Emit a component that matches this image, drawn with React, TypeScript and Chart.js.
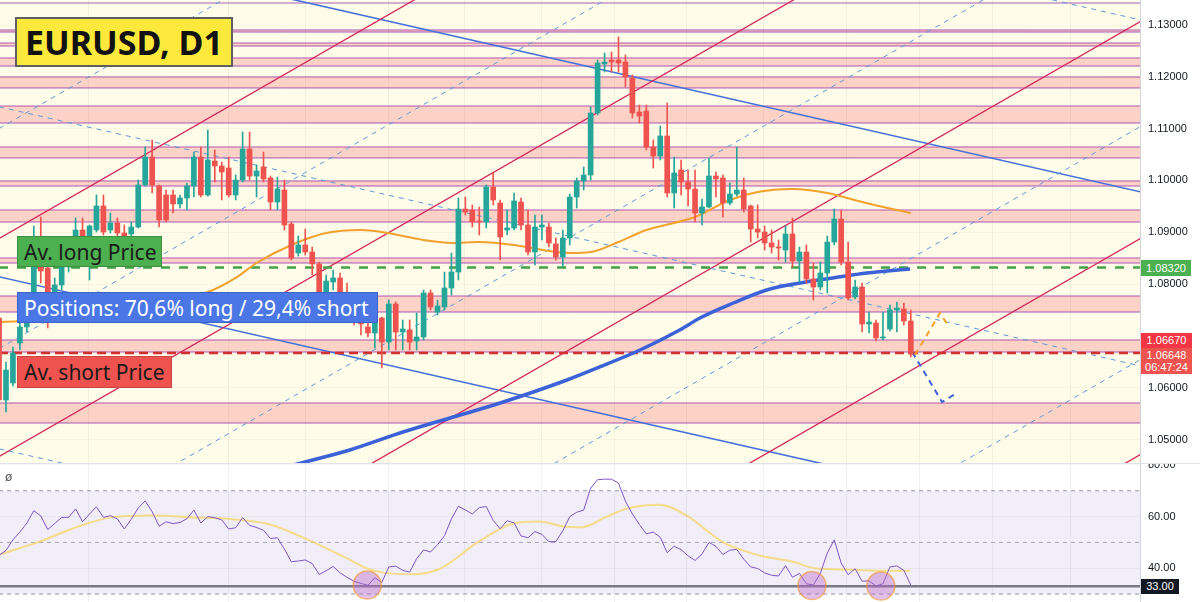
import React, { useEffect, useRef } from "react";
import { Chart, registerables } from "chart.js";
Chart.register(...registerables);

// ---------- DATA ----------
const candleOpen = [1.07346,1.05763,1.06091,1.06863,1.07172,1.07693,1.08330,1.08311,1.07693,1.07983,1.08330,1.08658,1.09044,1.08928,1.09044,1.09507,1.09044,1.09179,1.08986,1.08967,1.09102,1.09913,1.10453,1.09893,1.09720,1.09720,1.09546,1.09662,1.09893,1.10453,1.09720,1.10376,1.10279,1.10241,1.09720,1.10009,1.10607,1.10086,1.10260,1.10048,1.09584,1.09816,1.09160,1.08600,1.08755,1.08619,1.08388,1.07732,1.08040,1.08118,1.07693,1.07461,1.07346,1.07172,1.07056,1.07346,1.06882,1.07616,1.07075,1.07114,1.06902,1.06979,1.07828,1.07461,1.07558,1.07925,1.08233,1.09449,1.09430,1.09218,1.09198,1.09874,1.09565,1.09044,1.09083,1.09584,1.09141,1.08619,1.09102,1.09102,1.08774,1.08523,1.08890,1.09681,1.09990,1.10106,1.11302,1.12248,1.12325,1.12325,1.12286,1.11978,1.11321,1.11341,1.10646,1.10472,1.10858,1.09758,1.10202,1.09970,1.09835,1.09372,1.09488,1.10086,1.10048,1.09565,1.09739,1.09816,1.09507,1.09063,1.09005,1.08793,1.08716,1.08658,1.08967,1.08446,1.08619,1.08098,1.07944,1.08214,1.08812,1.09256,1.08426,1.07751,1.07944,1.07230,1.07249,1.06960,1.07133,1.07500,1.07519,1.07288];
const candleClose = [1.05763,1.06342,1.06670,1.07172,1.07693,1.08330,1.08253,1.07790,1.07983,1.08330,1.08658,1.09044,1.08928,1.09121,1.09507,1.09005,1.09179,1.08986,1.08928,1.09102,1.09913,1.10453,1.09913,1.09237,1.09237,1.09546,1.09662,1.09893,1.10453,1.09720,1.10395,1.10279,1.10163,1.09720,1.10009,1.10607,1.10086,1.10183,1.10028,1.09584,1.09835,1.09141,1.08504,1.08755,1.08619,1.08388,1.07732,1.08060,1.08118,1.07693,1.07461,1.07268,1.07230,1.07056,1.07326,1.06882,1.07616,1.07075,1.07133,1.06882,1.06979,1.07828,1.07558,1.07577,1.07925,1.08233,1.09449,1.09391,1.09198,1.09198,1.09874,1.09623,1.08909,1.09083,1.09604,1.09141,1.08619,1.09102,1.09141,1.08793,1.08523,1.08890,1.09681,1.09990,1.10106,1.11302,1.12267,1.12286,1.12286,1.12267,1.11997,1.11302,1.11244,1.10646,1.10472,1.10858,1.09758,1.10144,1.09970,1.09835,1.09372,1.09488,1.10086,1.10028,1.09565,1.09739,1.09816,1.09449,1.09063,1.09005,1.08793,1.08716,1.08697,1.08967,1.08446,1.08619,1.08098,1.07944,1.08214,1.08812,1.09256,1.08426,1.07732,1.07944,1.07230,1.07268,1.06960,1.06979,1.07500,1.07539,1.07288,1.06648];
const candleHigh = [1.07404,1.06496,1.06786,1.07307,1.07790,1.09121,1.09295,1.08426,1.08118,1.08426,1.08851,1.09276,1.09276,1.09141,1.09720,1.09720,1.09372,1.09276,1.09141,1.09198,1.10009,1.10646,1.10781,1.09913,1.09816,1.09816,1.09720,1.09951,1.10549,1.10646,1.10974,1.10588,1.10356,1.10453,1.10106,1.10935,1.10935,1.10299,1.10549,1.10086,1.10067,1.10009,1.09198,1.08928,1.09063,1.08716,1.08426,1.08176,1.08272,1.08214,1.08021,1.07597,1.07423,1.07307,1.07346,1.07365,1.07693,1.07654,1.07307,1.07307,1.07442,1.07886,1.07886,1.07693,1.08233,1.08600,1.09662,1.09681,1.09527,1.09488,1.09913,1.10144,1.09623,1.09430,1.09758,1.09662,1.09430,1.09334,1.09334,1.09179,1.08890,1.09044,1.09739,1.10048,1.10260,1.11418,1.12325,1.12460,1.12479,1.12769,1.12422,1.12036,1.11457,1.11457,1.10781,1.11051,1.11495,1.10453,1.10395,1.10202,1.10202,1.09642,1.10434,1.10163,1.10106,1.09951,1.10646,1.10048,1.09527,1.09527,1.09121,1.09044,1.08851,1.09121,1.09276,1.08716,1.08755,1.08407,1.08426,1.08928,1.09449,1.09430,1.08812,1.08079,1.08021,1.07461,1.07307,1.07461,1.07597,1.07654,1.07635,1.07500];
const candleLow = [1.05705,1.05531,1.06033,1.06728,1.07075,1.07654,1.08021,1.07153,1.07597,1.07886,1.08233,1.08562,1.08658,1.08079,1.09005,1.08948,1.08986,1.08928,1.08851,1.08928,1.09083,1.09893,1.09758,1.09102,1.09198,1.09372,1.09469,1.09430,1.09681,1.09681,1.09700,1.09970,1.09623,1.09681,1.09623,1.09970,1.10009,1.09681,1.09970,1.09430,1.09430,1.09044,1.08465,1.08542,1.08562,1.08176,1.07693,1.07693,1.07886,1.07597,1.07404,1.07210,1.07018,1.06979,1.06767,1.06381,1.06728,1.06728,1.06728,1.06728,1.06728,1.06921,1.07500,1.07404,1.07500,1.07790,1.08079,1.09334,1.09102,1.08948,1.09083,1.09527,1.08465,1.08948,1.09044,1.09044,1.08562,1.08369,1.08851,1.08716,1.08465,1.08330,1.08755,1.09469,1.09816,1.10009,1.11264,1.12093,1.12093,1.12093,1.11804,1.11206,1.11109,1.10588,1.10241,1.10395,1.09681,1.09469,1.09720,1.09507,1.09198,1.09141,1.09469,1.09681,1.09295,1.09527,1.09700,1.09391,1.08812,1.08890,1.08658,1.08600,1.08465,1.08426,1.08330,1.08040,1.08021,1.07693,1.07886,1.07828,1.08755,1.08369,1.07693,1.07712,1.07075,1.07056,1.06902,1.06921,1.07095,1.07075,1.07210,1.06593];

const orangeMaIdx = [0, 3, 30, 34, 37, 42, 47, 52, 55, 61, 65, 69, 74, 79, 82, 85, 89, 93, 100, 105, 109, 114, 119, 124, 131];
const orangeMaVal = [1.07268,1.07288,1.07847,1.08118,1.08407,1.08755,1.08986,1.09044,1.09005,1.08851,1.08793,1.08812,1.08755,1.08639,1.08600,1.08619,1.08812,1.09044,1.09295,1.09623,1.09777,1.09835,1.09758,1.09584,1.09372];
const blueMaIdx = [42, 50.4, 57.6, 64.8, 72, 81.6, 86.3, 92.1, 97.8, 100.7, 105.5, 110.3, 115.1, 119.8, 124.7, 130.9];
const blueMaVal = [1.04500,1.04798,1.05126,1.05416,1.05705,1.06149,1.06400,1.06728,1.07114,1.07346,1.07635,1.07886,1.08021,1.08118,1.08214,1.08291];

const zoneLow = [1.12865,1.12595,1.12209,1.11785,1.11109,1.10434,1.09893,1.09198,1.08407,1.07461,1.06689,1.05319];
const zoneHigh = [1.12904,1.12653,1.12364,1.11997,1.11437,1.10646,1.09990,1.09430,1.08504,1.07770,1.06921,1.05705];
const topLevel = 1.13425;
const avLongPrice = 1.0832;
const avShortPrice = 1.0667;

// trend lines: price at bar 0 and at bar 164
const channelRedStart = [1.08879,1.04672,1.00406,0.96218,0.92049];
const channelRedEnd = [1.21540,1.17333,1.13067,1.08879,1.04710];
const channelMidStart = [1.11002,1.06756,1.02568,0.98380,0.93883];
const channelMidEnd = [1.23663,1.19417,1.15229,1.11041,1.06544];
const downSolidStart = [1.14780,1.08141];
const downSolidEnd = [1.09779,1.03140];
const downDashStart = [1.18100,1.11422,1.04821];
const downDashEnd = [1.13099,1.06421,0.99820];

const projOrangeIdx = [131.6, 135.2, 136.3];
const projOrangeVal = [1.06631, 1.07442, 1.07210];
const projBlueIdx = [131.2, 135.5, 137.6];
const projBlueVal = [1.06690, 1.05724, 1.05898];

const priceTicks = [1.05, 1.06, 1.08, 1.09, 1.10, 1.11, 1.12, 1.13];
const gridBars = [12.9, 32.9, 44, 55.9, 66.9, 77.9, 88.4, 98.8, 109.9, 121.8, 132.3, 142.8, 153.9];

const rsiValues = [45.0,46.9,51,54,57.5,62.3,60.3,55,57.3,59.7,59.7,63,58,61,63.8,59.7,60.4,59.1,55.2,59,63.3,66.1,61.9,56.3,58,57.3,57.7,59.2,62.5,57.5,60,59.6,58.7,55.2,55.7,59.6,56.6,55.8,54.7,51.5,51.8,47.4,42.5,42.8,43.2,41.8,37.6,39,40.7,38.2,36.5,35,34.1,33.4,36.3,34.5,40.5,40.8,39.2,38.5,43.7,47.1,46.3,49.1,52.6,59.1,64,62.6,61,63.5,63.9,58.5,55.3,58.4,57.6,52.5,51.8,54.2,53.1,50.3,50.3,54.5,60,61.7,62.5,71,74.3,74.5,74.5,73,66,61,57,53.3,54,52,46,48.5,47.2,44.8,43,45.5,50,48.5,45.3,47,47.3,43.5,40.5,39.9,38.2,37.3,37,41,36.5,38,34,33.5,38,45.9,51,42,37.5,39.8,35,35.1,33.1,34,40.5,40.9,39.2,33.5];
const rsiMaIdx = [0.1,5.6,11.1,16.1,22.1,27.6,33.2,38.6,44.1,49.6,52.9,55.2,59.5,63.4,68.8,73.8,77.7,81,83.8,87.1,90.1,94.8,98.8,104,109.2,114.2,117.4,122,127.1,130.9];
const rsiMaVal = [45.3,50.1,55.9,59.7,60.4,59.7,59.1,57.2,51.4,44.4,39.9,38.3,37.7,39.9,50.1,57.2,58.1,56.2,55.9,59.7,63.0,64.6,60.4,50.1,45.0,42.4,39.9,39.5,39.0,39.0];
const rsiUpper = 70, rsiMid = 50, rsiLower = 30, rsiLevel = 33;
const rsiTicks = [40, 60, 80];
const signalIdx = [52.9, 116.8, 126.7];
const signalVal = [33.5, 33.3, 33.1];

// ---------- STYLE ----------
const X_MIN = 0.14, X_MAX = 163.93;
const Y_MIN = 1.04547, Y_MAX = 1.13483;
const R_MIN = 26.92, R_MAX = 80.38;
const L0 = 0, L1 = 164;
const UP = "#26a69a", DOWN = "#ef5350";
const CREAM = "#fffde9";
const ZONE_FILL = "rgba(242,54,69,0.21)";
const ZONE_LINE = "rgba(142,36,170,0.75)";
const AXIS_FONT = { family: "'Liberation Sans', Arial, sans-serif", size: 11 };

const bgPlugin = {
  id: "bg",
  beforeDraw(chart: any, _a: any, opts: any) {
    const { ctx, chartArea } = chart;
    ctx.save();
    ctx.fillStyle = "#ffffff";
    ctx.fillRect(0, 0, chart.width, chart.height);
    ctx.fillStyle = opts.color;
    ctx.fillRect(chartArea.left, chartArea.top, chartArea.right - chartArea.left, chartArea.bottom - chartArea.top);
    ctx.restore();
  },
};

const hline = (y: number, color: string, width: number, extra: any = {}) => ({
  type: "line",
  data: [{ x: L0, y }, { x: L1, y }],
  borderColor: color,
  borderWidth: width,
  pointRadius: 0,
  fill: false,
  order: 20,
  ...extra,
});
const seg = (y0: number, y1: number, color: string, width: number, extra: any = {}) => ({
  type: "line",
  data: [{ x: L0, y: y0 }, { x: L1, y: y1 }],
  borderColor: color,
  borderWidth: width,
  pointRadius: 0,
  fill: false,
  order: 8,
  ...extra,
});

const fixWidth = (s: any) => {
  s.width = 60;
  s.paddingTop = 0;
  s.paddingBottom = 0;
  s.paddingLeft = 0;
  s.paddingRight = 0;
};
const fixX = (s: any) => {
  s.paddingLeft = 0;
  s.paddingRight = 0;
  s.paddingTop = 0;
  s.paddingBottom = 0;
};

function MainChart() {
  const ref = useRef<HTMLCanvasElement | null>(null);
  useEffect(() => {
    const n = candleOpen.length;
    const ids = Array.from({ length: n }, (_, i) => i);
    const colors = ids.map((i) => (candleClose[i] >= candleOpen[i] ? UP : DOWN));
    const datasets: any[] = [];
    datasets.push(hline(topLevel, ZONE_LINE, 1));
    zoneLow.forEach((lo, k) => {
      datasets.push(hline(lo, ZONE_LINE, 1, { fill: "+1", backgroundColor: ZONE_FILL }));
      datasets.push(hline(zoneHigh[k], ZONE_LINE, 1));
    });
    channelMidStart.forEach((s, k) =>
      datasets.push(seg(s, channelMidEnd[k], "#5b9bd5", 1, { borderDash: [5, 5] }))
    );
    downDashStart.forEach((s, k) =>
      datasets.push(seg(s, downDashEnd[k], "#5b9bd5", 1, { borderDash: [5, 5] }))
    );
    channelRedStart.forEach((s, k) => datasets.push(seg(s, channelRedEnd[k], "#d3265c", 1.3)));
    downSolidStart.forEach((s, k) => datasets.push(seg(s, downSolidEnd[k], "#4472d9", 1.6)));
    datasets.push(hline(avLongPrice, "#43a047", 2.5, { borderDash: [9, 9], order: 4 }));
    datasets.push(hline(avShortPrice, "#d32f2f", 2.5, { borderDash: [9, 5], order: 4 }));
    datasets.push({
      type: "line",
      data: orangeMaIdx.map((x, i) => ({ x, y: orangeMaVal[i] })),
      borderColor: "#f2a12e",
      borderWidth: 2,
      pointRadius: 0,
      cubicInterpolationMode: "monotone",
      fill: false,
      order: 3,
    });
    datasets.push({
      type: "line",
      data: blueMaIdx.map((x, i) => ({ x, y: blueMaVal[i] })),
      borderColor: "#3b62d6",
      borderWidth: 3.5,
      pointRadius: 0,
      cubicInterpolationMode: "monotone",
      fill: false,
      order: 3,
    });
    datasets.push({
      type: "line",
      data: projOrangeIdx.map((x, i) => ({ x, y: projOrangeVal[i] })),
      borderColor: "#f2a12e",
      borderWidth: 2,
      borderDash: [6, 5],
      pointRadius: 0,
      fill: false,
      order: 2,
    });
    datasets.push({
      type: "line",
      data: projBlueIdx.map((x, i) => ({ x, y: projBlueVal[i] })),
      borderColor: "#3b62d6",
      borderWidth: 2,
      borderDash: [6, 5],
      pointRadius: 0,
      fill: false,
      order: 2,
    });
    datasets.push({
      type: "bar",
      data: ids.map((i) => ({ x: i, y: [candleLow[i], candleHigh[i]] })),
      backgroundColor: colors,
      barThickness: 1,
      grouped: false,
      order: 1,
    });
    datasets.push({
      type: "bar",
      data: ids.map((i) => ({ x: i, y: [candleOpen[i], candleClose[i]] })),
      backgroundColor: colors,
      barThickness: 5,
      minBarLength: 1,
      grouped: false,
      order: 0,
    });

    const chart = new Chart(ref.current as HTMLCanvasElement, {
      type: "bar",
      data: { datasets },
      plugins: [bgPlugin],
      options: {
        animation: false,
        responsive: true,
        maintainAspectRatio: false,
        layout: { padding: 0, autoPadding: false },
        events: [],
        plugins: {
          legend: { display: false },
          tooltip: { enabled: false },
          bg: { color: CREAM },
        } as any,
        scales: {
          x: {
            type: "linear",
            min: X_MIN,
            max: X_MAX,
            offset: false,
            ticks: { display: false, padding: 0 },
            grid: { color: "rgba(42,46,57,0.06)", drawTicks: false, offset: false },
            border: { display: false },
            afterBuildTicks: (s: any) => {
              s.ticks = gridBars.map((v) => ({ value: v }));
            },
            afterFit: fixX,
          },
          y: {
            type: "linear",
            position: "right",
            min: Y_MIN,
            max: Y_MAX,
            ticks: {
              color: "#131722",
              font: AXIS_FONT,
              padding: 8,
              callback: (v: any) => Number(v).toFixed(5),
            },
            grid: { color: "rgba(42,46,57,0.04)", drawTicks: false },
            border: { display: true, color: "#d1d4dc" },
            afterBuildTicks: (s: any) => {
              s.ticks = priceTicks.map((v) => ({ value: v }));
            },
            afterFit: fixWidth,
          },
        },
      } as any,
    });
    return () => chart.destroy();
  }, []);
  return <canvas ref={ref} />;
}

function RsiChart() {
  const ref = useRef<HTMLCanvasElement | null>(null);
  useEffect(() => {
    const datasets: any[] = [];
    const lvl = (y: number, extra: any) => ({
      type: "line",
      data: [{ x: L0, y }, { x: L1, y }],
      pointRadius: 0,
      fill: false,
      order: 10,
      ...extra,
    });
    datasets.push(lvl(rsiUpper, { borderColor: "#9598a1", borderWidth: 1, borderDash: [4, 4], fill: "+1", backgroundColor: "rgba(126,87,194,0.1)" }));
    datasets.push(lvl(rsiLower, { borderColor: "#9598a1", borderWidth: 1, borderDash: [4, 4] }));
    datasets.push(lvl(rsiMid, { borderColor: "rgba(149,152,161,0.8)", borderWidth: 1, borderDash: [4, 4] }));
    datasets.push(lvl(rsiLevel, { borderColor: "#787b86", borderWidth: 2.5, order: 9 }));
    datasets.push({
      type: "line",
      data: rsiMaIdx.map((x, i) => ({ x, y: rsiMaVal[i] })),
      borderColor: "rgba(245,214,100,0.75)",
      borderWidth: 2,
      pointRadius: 0,
      cubicInterpolationMode: "monotone",
      fill: false,
      order: 5,
    });
    datasets.push({
      type: "line",
      data: rsiValues.map((y, i) => ({ x: i, y })),
      borderColor: "#7e57c2",
      borderWidth: 1,
      pointRadius: 0,
      fill: false,
      order: 4,
    });
    datasets.push({
      type: "line",
      data: signalIdx.map((x, i) => ({ x, y: signalVal[i] })),
      showLine: false,
      pointRadius: 14,
      pointBackgroundColor: "rgba(186,104,200,0.42)",
      pointBorderColor: "rgba(245,150,40,0.6)",
      pointBorderWidth: 1.5,
      order: 0,
    });
    const chart = new Chart(ref.current as HTMLCanvasElement, {
      type: "line",
      data: { datasets },
      plugins: [bgPlugin],
      options: {
        animation: false,
        responsive: true,
        maintainAspectRatio: false,
        layout: { padding: 0, autoPadding: false },
        events: [],
        plugins: {
          legend: { display: false },
          tooltip: { enabled: false },
          bg: { color: "#ffffff" },
        } as any,
        scales: {
          x: {
            type: "linear",
            min: X_MIN,
            max: X_MAX,
            offset: false,
            ticks: { display: false, padding: 0 },
            grid: { color: "rgba(42,46,57,0.06)", drawTicks: false },
            border: { display: false },
            afterBuildTicks: (s: any) => {
              s.ticks = gridBars.map((v) => ({ value: v }));
            },
            afterFit: fixX,
          },
          y: {
            type: "linear",
            position: "right",
            min: R_MIN,
            max: R_MAX,
            ticks: {
              color: "#131722",
              font: AXIS_FONT,
              padding: 8,
              callback: (v: any) => Number(v).toFixed(2),
            },
            grid: { color: "rgba(42,46,57,0.05)", drawTicks: false },
            border: { display: true, color: "#d1d4dc" },
            afterBuildTicks: (s: any) => {
              s.ticks = rsiTicks.map((v) => ({ value: v }));
            },
            afterFit: fixWidth,
          },
        },
      } as any,
    });
    return () => chart.destroy();
  }, []);
  return <canvas ref={ref} />;
}

const tag = (extra: React.CSSProperties): React.CSSProperties => ({
  position: "absolute",
  boxSizing: "border-box",
  display: "flex",
  alignItems: "center",
  whiteSpace: "nowrap",
  fontFamily: "'Noto Sans', 'Open Sans', sans-serif",
  ...extra,
});
const axisTag = (extra: React.CSSProperties): React.CSSProperties => ({
  position: "absolute",
  boxSizing: "border-box",
  left: 1141,
  color: "#ffffff",
  fontFamily: "'Liberation Sans', Arial, sans-serif",
  fontSize: 11,
  textAlign: "center",
  ...extra,
});

export default function App() {
  return (
    <div style={{ position: "fixed", left: 0, top: 0, width: 1200, height: 602, overflow: "hidden", background: "#fff" }}>
      <div style={{ position: "absolute", left: 0, top: 0, width: 1200, height: 463 }}>
        <MainChart />
      </div>
      <div style={{ position: "absolute", left: 0, top: 463, width: 1200, height: 1, background: "#e0e3eb" }} />
      <div style={{ position: "absolute", left: 0, top: 464, width: 1200, height: 138 }}>
        <RsiChart />
      </div>

      <div style={tag({ left: 15, top: 17, width: 218, height: 50, background: "#fde93b", border: "2px solid #5f5f5f", paddingLeft: 8, fontSize: 34, fontWeight: 700, color: "#111" })}>
        EURUSD, D1
      </div>
      <div style={tag({ left: 17, top: 236, width: 145, height: 31, background: "#4caf50", border: "1px solid #3d8f41", paddingLeft: 6, fontSize: 21, color: "#1a1a1a" })}>
        Av. long Price
      </div>
      <div style={tag({ left: 17, top: 292, width: 361, height: 31, background: "#4a76e6", border: "1px solid #3b63c9", paddingLeft: 6, fontSize: 21, color: "#ffffff" })}>
        Positions: 70,6% long / 29,4% short
      </div>
      <div style={tag({ left: 17, top: 356, width: 155, height: 32, background: "#ef5350", border: "1px solid #c94442", paddingLeft: 6, fontSize: 21, color: "#1a1a1a" })}>
        Av. short Price
      </div>

      <div style={axisTag({ top: 260, width: 50, height: 16, lineHeight: "16px", background: "#4caf50" })}>1.08320</div>
      <div style={axisTag({ top: 333, width: 51, height: 15, lineHeight: "15px", background: "#f23645" })}>1.06670</div>
      <div style={axisTag({ top: 348, width: 51, height: 26, lineHeight: "12px", paddingTop: 1, background: "#ef5350" })}>
        1.06648
        <br />
        06:47:24
      </div>
      <div style={axisTag({ top: 579, width: 38, height: 15, lineHeight: "15px", background: "#131722" })}>33.00</div>
      <div style={{ position: "absolute", left: 5, top: 470, fontSize: 12, color: "#555", fontFamily: "'DejaVu Sans', sans-serif" }}>ø</div>
    </div>
  );
}
